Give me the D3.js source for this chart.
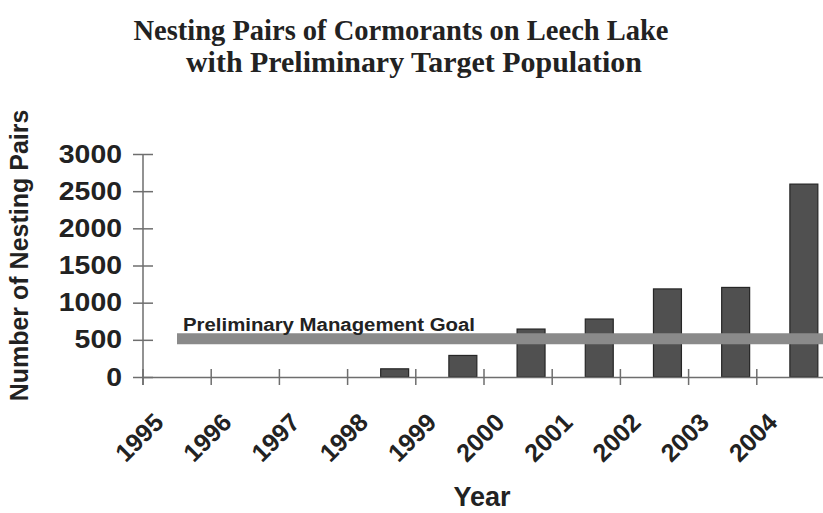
<!DOCTYPE html>
<html>
<head>
<meta charset="utf-8">
<script src="https://cdn.jsdelivr.net/npm/d3@7"></script>
<style>
  html, body { margin: 0; padding: 0; background: #fff; }
  svg { display: block; }
</style>
</head>
<body>
<svg id="chart" width="823" height="513"></svg>
<script>
// ---- data ----
const years = ["1995","1996","1997","1998","1999","2000","2001","2002","2003","2004"];
const nestingPairs = [0, 0, 0, 110, 290, 645, 780, 1185, 1205, 2595];
const goalValue = 500;
const goalLabel = "Preliminary Management Goal";
const yTickValues = [0, 500, 1000, 1500, 2000, 2500, 3000];
const titleLines = ["Nesting Pairs of Cormorants on Leech Lake", "with Preliminary Target Population"];
const yAxisTitle = "Number of Nesting Pairs";
const xAxisTitle = "Year";

// ---- layout ----
const svg = d3.select("#chart");
const plot = { left: 143, right: 825, top: 154, bottom: 377 };

const x = d3.scaleBand().domain(years).range([plot.left, plot.right]).padding(0);
const y = d3.scaleLinear().domain([0, 3000]).range([plot.bottom, plot.top]);

const axisColor = "#6e6e6e";

// title
const title = svg.append("g").attr("font-family", "'Liberation Serif', 'Times New Roman', serif")
  .attr("font-weight", "bold").attr("fill", "#222");
title.append("text").attr("x", 401).attr("y", 40).attr("text-anchor", "middle")
  .attr("font-size", 30).attr("textLength", 535).attr("lengthAdjust", "spacingAndGlyphs")
  .text(titleLines[0]);
title.append("text").attr("x", 414).attr("y", 72).attr("text-anchor", "middle")
  .attr("font-size", 30).attr("textLength", 456).attr("lengthAdjust", "spacingAndGlyphs")
  .text(titleLines[1]);

// bars
const data = years.map((yr, i) => ({ year: yr, value: nestingPairs[i] }));
svg.append("g").selectAll("rect").data(data.filter(d => d.value > 0)).join("rect")
  .attr("x", d => x(d.year) + x.bandwidth() * 0.485)
  .attr("width", x.bandwidth() * 0.41)
  .attr("y", d => y(d.value))
  .attr("height", d => y(0) - y(d.value))
  .attr("fill", "#505050")
  .attr("stroke", "#262626")
  .attr("stroke-width", 1.2);

// y axis
const yAxis = d3.axisLeft(y).tickValues(yTickValues).tickFormat(d3.format("d"))
  .tickSizeInner(10).tickSizeOuter(0).tickPadding(10);
const yg = svg.append("g").attr("transform", `translate(${plot.left},0)`).call(yAxis);
yg.select(".domain").attr("stroke", axisColor).attr("stroke-width", 1.5)
  .attr("d", `M0,${plot.top}V${plot.bottom + 8}`);
yg.selectAll(".tick line").attr("stroke", axisColor).attr("stroke-width", 1.5).attr("x1", -10).attr("x2", 10);
yg.selectAll(".tick text").attr("font-family", "'Liberation Sans', Arial, sans-serif")
  .attr("font-weight", "bold").attr("font-size", 25).attr("fill", "#222").attr("x", -21)
  .attr("textLength", d => String(d).length * 15.8).attr("lengthAdjust", "spacingAndGlyphs");

// x axis
const xAxis = d3.axisBottom(x).tickSize(0).tickFormat(d => d);
const xg = svg.append("g").attr("transform", `translate(0,${plot.bottom})`).call(xAxis);
xg.select(".domain").attr("stroke", axisColor).attr("stroke-width", 1.5);
xg.selectAll(".tick").attr("transform", d => `translate(${x(d)},0)`);
xg.selectAll(".tick line").attr("stroke", axisColor).attr("stroke-width", 1.5)
  .attr("y1", -8).attr("y2", 8);
xg.selectAll(".tick text")
  .attr("font-family", "'Liberation Sans', Arial, sans-serif")
  .attr("font-weight", "bold").attr("font-size", 25).attr("fill", "#222")
  .attr("text-anchor", "end").attr("dy", null).attr("y", 0)
  .attr("transform", "translate(22,47) rotate(-45)");

// goal band (drawn over bars)
svg.append("line")
  .attr("x1", 177).attr("x2", 823)
  .attr("y1", y(goalValue) - 1).attr("y2", y(goalValue) - 1)
  .attr("stroke", "#8a8a8a").attr("stroke-width", 11);
svg.append("text").attr("x", 183).attr("y", y(goalValue) - 9)
  .attr("font-family", "'Liberation Sans', Arial, sans-serif")
  .attr("font-weight", "bold").attr("font-size", 18).attr("fill", "#222")
  .attr("textLength", 292).attr("lengthAdjust", "spacingAndGlyphs")
  .text(goalLabel);

// axis titles
svg.append("text")
  .attr("transform", `translate(28,${(plot.top + plot.bottom) / 2 - 10}) rotate(-90)`)
  .attr("text-anchor", "middle")
  .attr("font-family", "'Liberation Sans', Arial, sans-serif")
  .attr("font-weight", "bold").attr("font-size", 25).attr("fill", "#222")
  .text(yAxisTitle);
svg.append("text").attr("x", 482).attr("y", 506).attr("text-anchor", "middle")
  .attr("font-family", "'Liberation Sans', Arial, sans-serif")
  .attr("font-weight", "bold").attr("font-size", 27).attr("fill", "#222")
  .text(xAxisTitle);
</script>
</body>
</html>
